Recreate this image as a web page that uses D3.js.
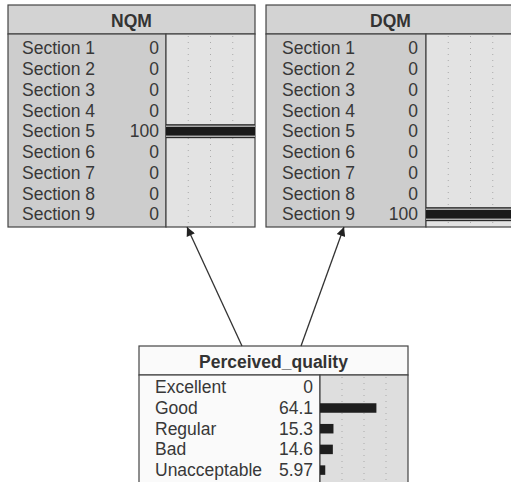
<!DOCTYPE html>
<html><head><meta charset="utf-8">
<script src="https://cdn.jsdelivr.net/npm/d3@7"></script>
<style>
html,body{margin:0;padding:0;background:#fff;}
svg{display:block;font-family:"Liberation Sans",Arial,Helvetica,sans-serif;}
</style></head>
<body><svg id="c" width="511" height="482"></svg>
<script>
const sections = ["Section 1","Section 2","Section 3","Section 4","Section 5","Section 6","Section 7","Section 8","Section 9"];
const nqmValues = [0,0,0,0,100,0,0,0,0];
const nqmLabels = ["0","0","0","0","100","0","0","0","0"];
const dqmValues = [0,0,0,0,0,0,0,0,100];
const dqmLabels = ["0","0","0","0","0","0","0","0","100"];
const qualityStates = ["Excellent","Good","Regular","Bad","Unacceptable"];
const qualityValues = [0,64.1,15.3,14.6,5.97];
const qualityLabels = ["0","64.1","15.3","14.6","5.97"];

const svg = d3.select("#c");
const defs = svg.append("defs");
defs.append("marker").attr("id","arr").attr("viewBox","0 0 10 10")
  .attr("refX",10).attr("refY",5).attr("markerWidth",15).attr("markerHeight",9)
  .attr("markerUnits","userSpaceOnUse").attr("orient","auto")
  .append("path").attr("d","M0,0 L10,5 L0,10 z").attr("fill","#222");

const FS = 17.5;
function node(cfg){
  const g = svg.append("g");
  const {x0,x1,top,headH,div,rowTop,rowH,cats,vals,labs,title,bodyBottom,headFill,labFill,barFill,barStyle,padL,valRight} = cfg;
  g.append("rect").attr("x",x0).attr("y",top).attr("width",x1-x0).attr("height",headH)
    .attr("fill",headFill).attr("stroke","#444").attr("stroke-width",1.2);
  g.append("text").attr("x",(x0+x1)/2).attr("y",top+headH/2+7.5).attr("text-anchor","middle")
    .attr("font-weight","bold").attr("font-size",FS).attr("fill","#333").text(title);
  const bTop = top+headH;
  g.append("rect").attr("x",x0).attr("y",bTop).attr("width",div-x0).attr("height",bodyBottom-bTop)
    .attr("fill",labFill).attr("stroke","#444").attr("stroke-width",1.2);
  g.append("rect").attr("x",div).attr("y",bTop).attr("width",x1-div).attr("height",bodyBottom-bTop)
    .attr("fill",barFill).attr("stroke","#444").attr("stroke-width",1.2);
  const x = d3.scaleLinear().domain([0,100]).range([div,x1]);
  const y = d3.scaleBand().domain(cats).range([rowTop,rowTop+rowH*cats.length]);
  g.selectAll(".gl").data([25,50,75]).enter().append("line")
    .attr("x1",d=>x(d)).attr("x2",d=>x(d)).attr("y1",bTop+2).attr("y2",bodyBottom-1)
    .attr("stroke","#aaa").attr("stroke-width",1).attr("stroke-dasharray","1,5");
  g.selectAll(".lab").data(cats).enter().append("text")
    .attr("x",x0+padL).attr("y",d=>y(d)+y.bandwidth()/2+6.3).attr("font-size",FS).attr("fill","#383838").text(d=>d);
  g.selectAll(".val").data(labs).enter().append("text")
    .attr("x",valRight).attr("y",(d,i)=>y(cats[i])+y.bandwidth()/2+6.3).attr("text-anchor","end")
    .attr("font-size",FS).attr("fill","#383838").text(d=>d);
  cats.forEach((c,i)=>{
    const v = vals[i];
    if(v<=0) return;
    const cy = y(c)+y.bandwidth()/2;
    if(barStyle==="framed"){
      g.append("rect").attr("x",x(0)).attr("y",cy-7).attr("width",x(v)-x(0)).attr("height",14).attr("fill","#2a2a2a");
      g.append("rect").attr("x",x(0)).attr("y",cy-5.5).attr("width",x(v)-x(0)).attr("height",11).attr("fill","#eee");
      g.append("rect").attr("x",x(0)).attr("y",cy-4.5).attr("width",x(v)-x(0)).attr("height",9).attr("fill","#1a1a1a");
    } else {
      g.append("rect").attr("x",x(0)).attr("y",cy-4.5).attr("width",x(v)-x(0)).attr("height",9.5).attr("fill","#1e1e1e");
    }
  });
}

node({x0:8,x1:255,top:5,headH:29,div:166,rowTop:37.8,rowH:20.75,cats:sections,vals:nqmValues,labs:nqmLabels,
  title:"NQM",bodyBottom:227,headFill:"#d3d3d3",labFill:"#cdcdcd",barFill:"#e3e3e3",barStyle:"framed",padL:14,valRight:159});
node({x0:266,x1:515,top:5,headH:29,div:426,rowTop:37.8,rowH:20.75,cats:sections,vals:dqmValues,labs:dqmLabels,
  title:"DQM",bodyBottom:227,headFill:"#d3d3d3",labFill:"#cdcdcd",barFill:"#e3e3e3",barStyle:"framed",padL:16,valRight:418});
node({x0:139,x1:408,top:346,headH:29,div:320,rowTop:376.7,rowH:20.7,cats:qualityStates,vals:qualityValues,labs:qualityLabels,
  title:"Perceived_quality",bodyBottom:490,headFill:"#fafafa",labFill:"#fafafa",barFill:"#dedede",barStyle:"plain",padL:16,valRight:313});

const links = [[242,346,187,227],[301,346,344,227]];
svg.selectAll(".arr").data(links).enter().append("line")
  .attr("x1",d=>d[0]).attr("y1",d=>d[1]).attr("x2",d=>d[2]).attr("y2",d=>d[3])
  .attr("stroke","#333").attr("stroke-width",1.3).attr("marker-end","url(#arr)");
</script></body></html>
